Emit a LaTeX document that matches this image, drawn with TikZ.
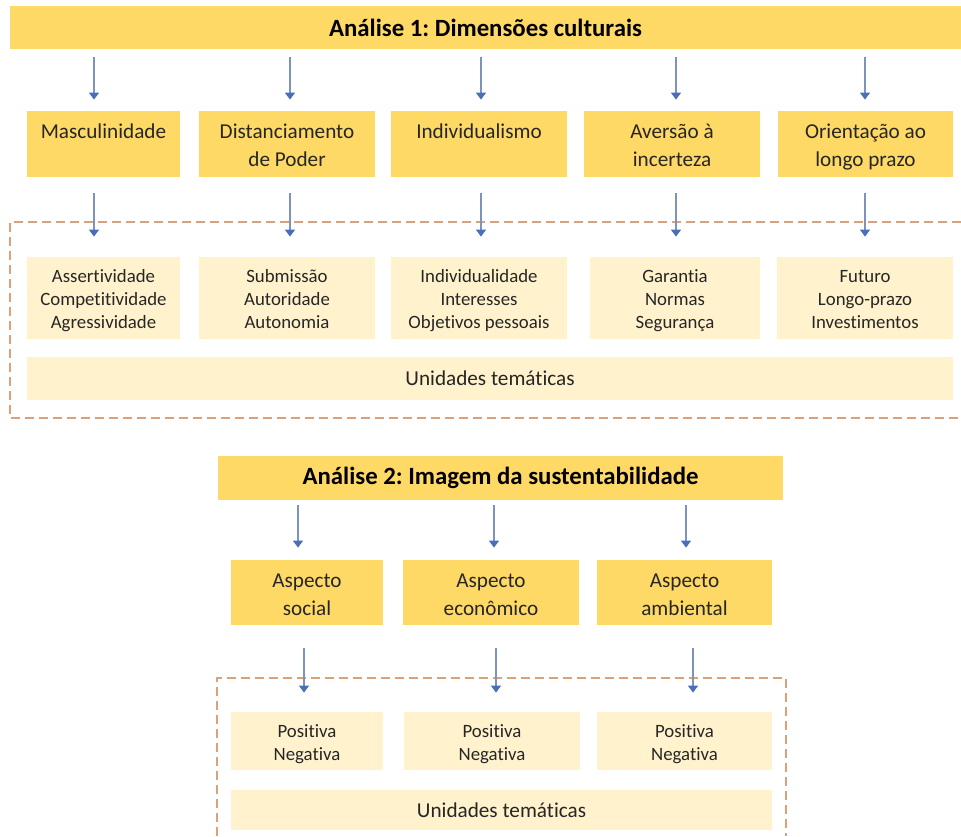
\documentclass[tikz,border=0pt]{standalone}
\usepackage{fontspec}
\setmainfont{Carlito}[Ligatures=NoCommon]
\frenchspacing
\usetikzlibrary{arrows.meta}
\definecolor{barcolor}{HTML}{FFD966}
\definecolor{itemcolor}{HTML}{FFF2CC}
\definecolor{framecolor}{HTML}{D9A27C}
\definecolor{arrowcolor}{HTML}{7D93BF}
\definecolor{tipcolor}{HTML}{4A6FB8}
\definecolor{inkcolor}{HTML}{262626}
\newcommand\dimtop{\rule{0pt}{\dimexpr.7\baselineskip+3pt\relax}}
\tikzset{
  dim title/.style={fill=barcolor,inner sep=0pt,text=black,font=\fontsize{12.4}{15}\selectfont\bfseries},
  dim box/.style={fill=barcolor,inner sep=0pt,align=center,text=inkcolor,font=\fontsize{10.6}{14}\selectfont},
  dim item/.style={fill=itemcolor,inner sep=0pt,align=center,text=inkcolor,font=\fontsize{9.4}{11.5}\selectfont},
  dim units/.style={fill=itemcolor,inner sep=0pt,text=inkcolor,font=\fontsize{10.6}{14}\selectfont},
  dim frame/.style={framecolor,line width=.7pt,dash pattern=on 4.5pt off 2.5pt},
  dim arrow/.style={arrowcolor,line width=.7pt,-{Triangle[width=5pt,length=3.5pt,color=tipcolor]}}
}

\begin{document}
\begin{tikzpicture}[x=.5pt,y=-.5pt]
  \useasboundingbox (0,0) rectangle (961,836);
  % Analise 1
  \node[dim title,minimum width=475.5pt,minimum height=21.5pt] (title1) at (485.5,27.5) {Análise 1: Dimensões culturais};
  \draw[dim frame] (961,222) -- (10,222) -- (10,418) -- (961,418);
  \foreach \n/\x/\w/\t in {m1/103.5/76.5/{\dimtop Masculinidade\\\strut},m2/287/88/{\dimtop Distanciamento\\de Poder\strut},
      m3/479/88/{\dimtop Individualismo\\\strut},m4/672/88/{\dimtop Aversão à\\incerteza\strut},m5/865.5/87.5/{\dimtop Orientação ao\\longo prazo\strut}}{
    \node[dim box,minimum width=\w pt,minimum height=33pt] (\n) at (\x,144) {\t};
  }
  \foreach \n/\x/\w/\t in {i1/103.5/76.5/{\dimtop Assertividade\\Competitividade\\Agressividade\strut},i2/287/88/{\dimtop Submissão\\Autoridade\\Autonomia\strut},
      i3/479/88/{\dimtop Individualidade\\Interesses\\Objetivos pessoais\strut},i4/675/85/{\dimtop Garantia\\Normas\\Segurança\strut},i5/865/88/{\dimtop Futuro\\Longo-prazo\\Investimentos\strut}}{
    \node[dim item,minimum width=\w pt,minimum height=41pt] (\n) at (\x,298) {\t};
  }
  \node[dim units,minimum width=463pt,minimum height=21.5pt] (u1) at (490,378.5) {Unidades temáticas};
  \foreach \n/\k/\x in {m1/i1/94,m2/i2/290,m3/i3/481,m4/i4/676,m5/i5/865}{
    \draw[dim arrow,shorten <=4pt,shorten >=5.5pt] (\x,0 |- title1.south) -- (\x,0 |- \n.north);
    \draw[dim arrow,shorten <=8pt,shorten >=10pt] (\x,0 |- \n.south) -- (\x,0 |- \k.north);
  }
  % Analise 2
  \node[dim title,minimum width=282.5pt,minimum height=22pt] (title2) at (500.5,478) {Análise 2: Imagem da sustentabilidade};
  \draw[dim frame] (217,836) -- (217,678) -- (786,678) -- (786,836);
  \foreach \n/\x/\w/\t in {a1/307/76/{\dimtop Aspecto\\social\strut},a2/491/88/{\dimtop Aspecto\\econômico\strut},a3/684.5/87.5/{\dimtop Aspecto\\ambiental\strut}}{
    \node[dim box,minimum width=\w pt,minimum height=32.5pt] (\n) at (\x,592.5) {\t};
  }
  \foreach \n/\x/\w in {p1/307/76,p2/492/88,p3/684.5/87.5}{
    \node[dim item,minimum width=\w pt,minimum height=29pt] (\n) at (\x,741) {\dimtop Positiva\\Negativa\strut};
  }
  \node[dim units,minimum width=270.5pt,minimum height=20pt] (u2) at (501.5,810) {Unidades temáticas};
  \foreach \n/\k/\x/\z in {a1/p1/298/304,a2/p2/494/496,a3/p3/686/693}{
    \draw[dim arrow,shorten <=2.5pt,shorten >=6pt] (\x,0 |- title2.south) -- (\x,0 |- \n.north);
    \draw[dim arrow,shorten <=11.5pt,shorten >=9.5pt] (\z,0 |- \n.south) -- (\z,0 |- \k.north);
  }
\end{tikzpicture}
\end{document}
